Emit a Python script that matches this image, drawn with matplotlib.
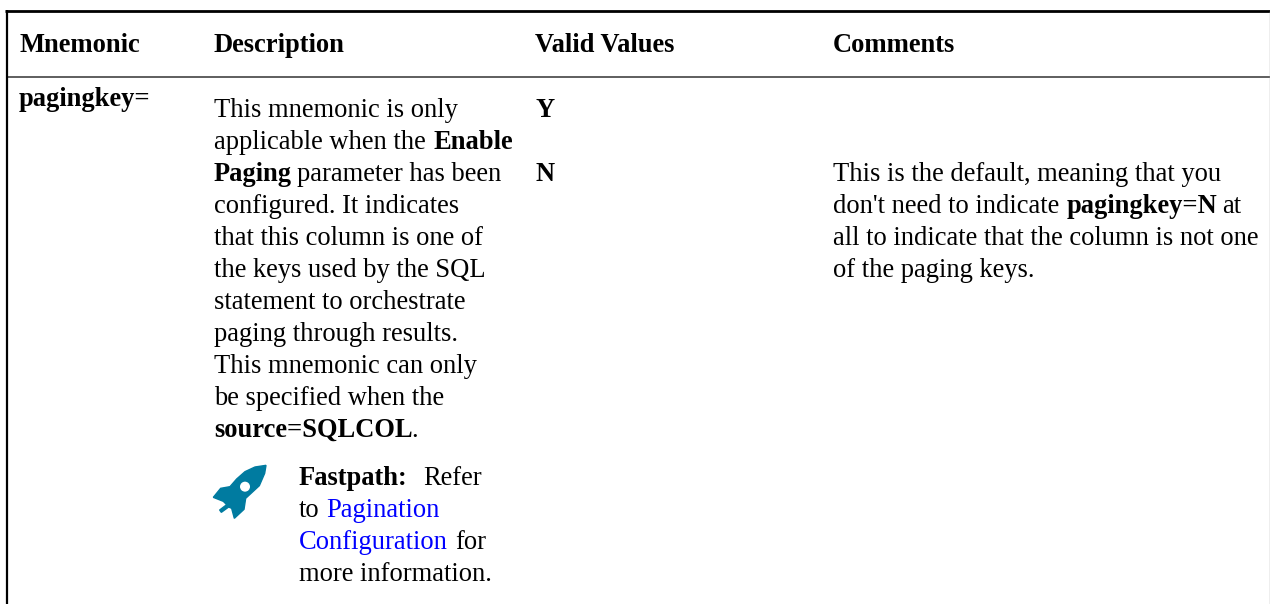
import matplotlib
matplotlib.use("Agg")
import matplotlib.pyplot as plt
from matplotlib.patches import Circle, PathPatch
from matplotlib.path import Path

plt.rcParams['font.family'] = ['Liberation Serif', 'DejaVu Serif']

headers = ["Mnemonic", "Description", "Valid Values", "Comments"]
header_x = [19, 214, 535, 833]
mnemonic = "pagingkey="
values = ["Y", "N"]
values_y = [117, 181]

# each line: (baseline, [(x, text, bold, colour), ...])
BLACK = "#000000"
LINK = "#0000ff"
description = [
    (117, [(214, "This mnemonic is only", False, BLACK)]),
    (149, [(214, "applicable when the", False, BLACK), (434, "Enable", True, BLACK)]),
    (181, [(214, "Paging", True, BLACK), (297, "parameter has been", False, BLACK)]),
    (213, [(214, "configured. It indicates", False, BLACK)]),
    (245, [(214, "that this column is one of", False, BLACK)]),
    (277, [(214, "the keys used by the SQL", False, BLACK)]),
    (309, [(214, "statement to orchestrate", False, BLACK)]),
    (341, [(214, "paging through results.", False, BLACK)]),
    (373, [(214, "This mnemonic can only", False, BLACK)]),
    (405, [(214, "be specified when the", False, BLACK)]),
    (437, [(214, "source=SQLCOL", True, BLACK), (411, ".", False, BLACK)]),
]
fastpath = [
    (485, [(299, "Fastpath:", True, BLACK), (423, "Refer", False, BLACK)]),
    (517, [(299, "to", False, BLACK), (326, "Pagination", False, LINK)]),
    (549, [(299, "Configuration", False, LINK), (455, "for", False, BLACK)]),
    (581, [(299, "more information.", False, BLACK)]),
]
comments = [
    (181, [(833, "This is the default, meaning that you", False, BLACK)]),
    (213, [(833, "don't need to indicate", False, BLACK), (1067, "pagingkey=N", True, BLACK), (1222, "at", False, BLACK)]),
    (245, [(833, "all to indicate that the column is not one", False, BLACK)]),
    (277, [(833, "of the paging keys.", False, BLACK)]),
]

W, H = 1270, 604
FS = 19.1
fig = plt.figure(figsize=(W / 100, H / 100), dpi=100, facecolor="white")
ax = fig.add_axes([0, 0, 1, 1])
ax.set_xlim(0, W)
ax.set_ylim(H, 0)
ax.axis("off")

# table rules
ax.plot([5, W], [11, 11], color="black", lw=2.0, solid_capstyle="butt")
ax.plot([6, W], [77, 77], color="#333333", lw=1.1, solid_capstyle="butt")
ax.plot([6.5, 6.5], [10, H], color="black", lw=1.6, solid_capstyle="butt")
ax.plot([1269.5, 1269.5], [11, H], color="#aaaaaa", lw=1.0, solid_capstyle="butt")

def put(x, y, s, bold=False, color=BLACK):
    ax.text(x, y, s, fontsize=FS, fontweight="bold" if bold else "normal",
            color=color, ha="left", va="baseline")

for x, h in zip(header_x, headers):
    put(x, 52, h, True)
put(19, 106, mnemonic, True)
for v, y in zip(values, values_y):
    put(535, y, v, True)
for block in (description, fastpath, comments):
    for y, runs in block:
        for x, s, bold, color in runs:
            put(x, y, s, bold, color)

# rocket icon (zoom-derived outline)
ox, oy, k = 200, 455, 1 / 3
outline = [
    (198, 31), (165, 36), (135, 50), (110, 72), (90, 95), (62, 100),
    (40, 127), (70, 139), (80, 149), (59, 165), (64, 172), (86, 156), (95, 160),
    (103, 190), (132, 163), (137, 130), (178, 92), (194, 55), (198, 31),
]
verts = [(ox + a * k, oy + b * k) for a, b in outline]
codes = [Path.MOVETO] + [Path.LINETO] * (len(verts) - 2) + [Path.CLOSEPOLY]
ax.add_patch(PathPatch(Path(verts, codes), facecolor="#007ba0", edgecolor="#007ba0", lw=1.0))
ax.add_patch(Circle((ox + 135 * k, oy + 95 * k), 15 * k, facecolor="white", edgecolor="none", zorder=3))

fig.savefig("out.png", dpi=100, facecolor="white")
